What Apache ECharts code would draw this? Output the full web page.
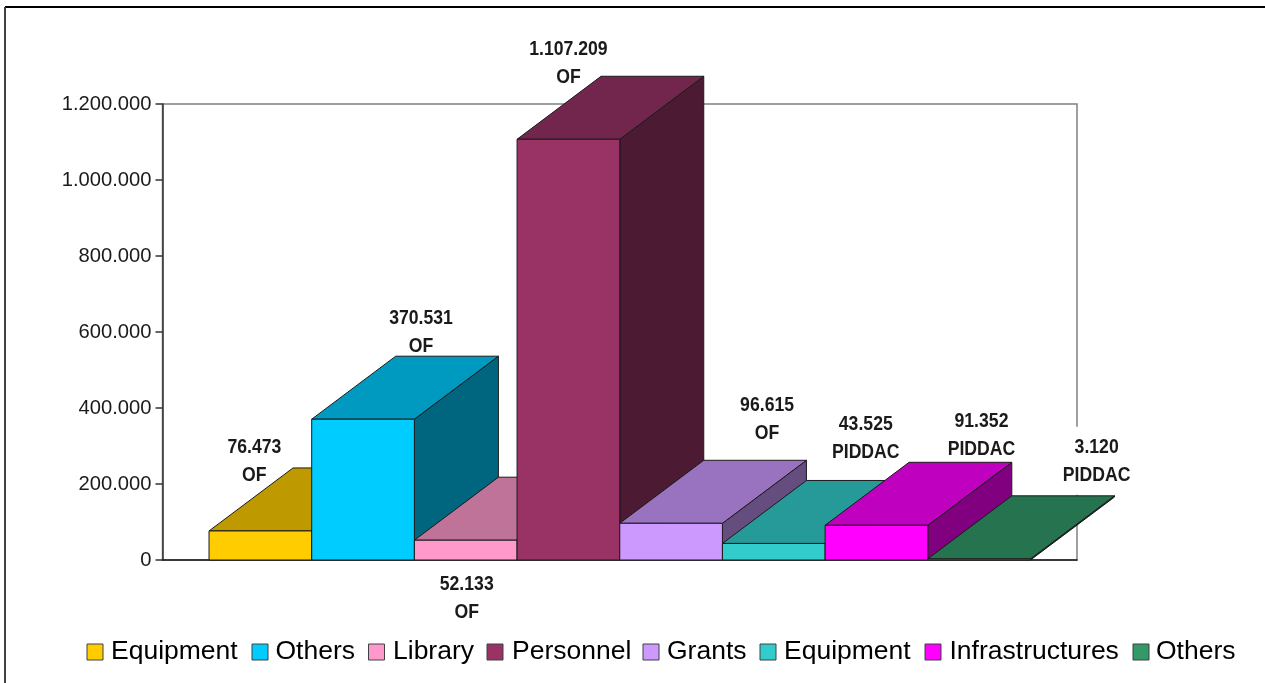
<!DOCTYPE html>
<html>
<head>
<meta charset="utf-8">
<title>Budget 3D bars</title>
<script src="https://cdn.jsdelivr.net/npm/echarts@6/dist/echarts.min.js"></script>
<style>
  html, body { margin: 0; padding: 0; background: #fff; }
  #chart { width: 1265px; height: 683px; }
</style>
</head>
<body>
<div id="chart"></div>
<script>
const categories = ['Equipment', 'Others', 'Library', 'Personnel', 'Grants', 'Equipment', 'Infrastructures', 'Others']
const values = [76473, 370531, 52133, 1107209, 96615, 43525, 91352, 3120]
const sources = ['OF', 'OF', 'OF', 'OF', 'OF', 'PIDDAC', 'PIDDAC', 'PIDDAC']
const yTicks = { min: 0, max: 1200000, step: 200000 }

// colours of each block: front, top, side
const frontColors = ['#FFCC00', '#00CCFF', '#FF99CC', '#993366', '#CC99FF', '#33CCCC', '#FF00FF', '#339966']
const topColors = ['#BF9900', '#0099BF', '#BF7399', '#73264D', '#9973BF', '#269999', '#BF00BF', '#267350']
const sideColors = ['#806600', '#006680', '#804D66', '#4D1A33', '#664D80', '#1A6666', '#800080', '#1A4D33']

// label offset in px from the middle of the front top edge
const labelOffsets = [[-6, -70], [58, -87], [1, 58], [0, -76], [96, -104], [92, -105], [105, -90], [117.5, -98]]
// legend: left of swatch and left of text in px
const legendSwatchX = [87, 252, 368.5, 487, 643, 760, 925, 1133]
const legendTextX = [111, 275.5, 393, 512, 667, 784, 949.5, 1156]

const depthX = 84
const depthY = -63
const inkColor = '#1a1a1a'

const formatThousands = (v) => String(v).replace(/\B(?=(\d{3})+(?!\d))/g, '.')

const renderBlock = (params, api) => {
  const i = api.value(0)
  const [x0, y0] = api.coord([i, 0])
  const [x1, y1] = api.coord([i + 1, api.value(1)])
  const face = (points, fill) => ({
    type: 'polygon',
    shape: { points },
    style: { fill, stroke: inkColor, lineWidth: 1 }
  })
  return {
    type: 'group',
    children: [
      face([[x1, y0], [x1 + depthX, y0 + depthY], [x1 + depthX, y1 + depthY], [x1, y1]], sideColors[i]),
      face([[x0, y1], [x1, y1], [x1 + depthX, y1 + depthY], [x0 + depthX, y1 + depthY]], topColors[i]),
      face([[x0, y0], [x1, y0], [x1, y1], [x0, y1]], frontColors[i])
    ]
  }
}

const renderLabel = (params, api) => {
  const i = api.value(0)
  const [x, y] = api.coord([i + 0.5, api.value(1)])
  return {
    type: 'text',
    x: x + labelOffsets[i][0],
    y: y + labelOffsets[i][1],
    scaleX: 0.84,
    style: {
      text: formatThousands(values[i]) + '\n' + sources[i],
      align: 'center',
      verticalAlign: 'middle',
      fill: '#1a1a1a',
      font: 'bold 21px "Liberation Sans", Arial, sans-serif',
      lineHeight: 28,
      // the last label hides the wall line behind it
      backgroundColor: i === values.length - 1 ? '#fff' : 'transparent',
      padding: [6, 6]
    }
  }
}

const legendGraphics = []
categories.forEach((name, i) => {
  legendGraphics.push({
    type: 'rect',
    shape: { x: legendSwatchX[i], y: 644, width: 16, height: 16 },
    style: { fill: frontColors[i], stroke: '#404040', lineWidth: 1 }
  })
  legendGraphics.push({
    type: 'text',
    style: {
      x: legendTextX[i],
      y: 652,
      text: name,
      verticalAlign: 'middle',
      fill: '#000',
      font: '26.5px "Liberation Sans", Arial, sans-serif'
    }
  })
})

const chart = echarts.init(document.getElementById('chart'))
chart.setOption({
  animation: false,
  backgroundColor: '#fff',
  grid: {
    show: true,
    left: 162.5,
    top: 104,
    width: 914.5,
    height: 456,
    borderColor: '#808080',
    borderWidth: 1.5
  },
  xAxis: {
    type: 'value',
    min: -0.453,
    max: 8.453,
    axisLine: { show: true, onZero: false, lineStyle: { color: '#1a1a1a', width: 1.5 } },
    axisTick: { show: false },
    axisLabel: { show: false },
    splitLine: { show: false }
  },
  yAxis: {
    type: 'value',
    min: yTicks.min,
    max: yTicks.max,
    interval: yTicks.step,
    axisLine: { show: true, onZero: false, lineStyle: { color: '#333', width: 1.5 } },
    axisTick: { show: true, length: 7, lineStyle: { color: '#333', width: 1.5 } },
    axisLabel: {
      margin: 11,
      color: '#1a1a1a',
      fontSize: 20.2,
      fontFamily: '"Liberation Sans", Arial, sans-serif',
      formatter: formatThousands
    },
    splitLine: { show: false }
  },
  series: [
    {
      type: 'custom',
      name: 'blocks',
      renderItem: renderBlock,
      data: values.map((v, i) => [i, v]),
      clip: false,
      z: 3
    },
    {
      type: 'custom',
      name: 'labels',
      renderItem: renderLabel,
      data: values.map((v, i) => [i, v]),
      clip: false,
      z: 5
    }
  ],
  graphic: [
    { type: 'line', shape: { x1: 5, y1: 7, x2: 1265, y2: 7 }, style: { stroke: '#000', lineWidth: 2 } },
    { type: 'line', shape: { x1: 5, y1: 7, x2: 5, y2: 683 }, style: { stroke: '#404040', lineWidth: 2 } }
  ].concat(legendGraphics)
})
</script>
</body>
</html>
